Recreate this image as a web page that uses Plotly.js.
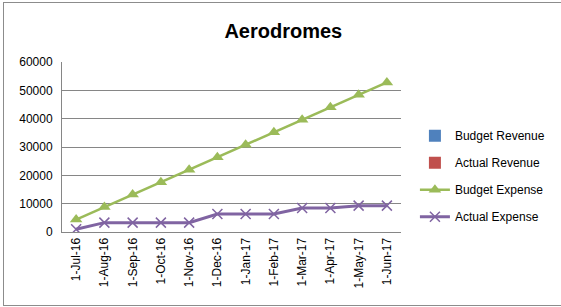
<!DOCTYPE html>
<html>
<head>
<meta charset="utf-8">
<script src="https://cdn.plot.ly/plotly-3.0.1.min.js"></script>
<style>
html,body{margin:0;padding:0;background:#fff;}
#wrap{position:relative;width:561px;height:307px;overflow:hidden;}
#chart{position:absolute;left:0;top:0;width:561px;height:307px;}
#frame{position:absolute;left:3px;top:2px;width:570px;height:302px;border:1px solid #8c8c8c;pointer-events:none;}
</style>
</head>
<body>
<div id="wrap"><div id="chart"></div><div id="frame"></div></div>
<script>
const months = ["1-Jul-16","1-Aug-16","1-Sep-16","1-Oct-16","1-Nov-16","1-Dec-16","1-Jan-17","1-Feb-17","1-Mar-17","1-Apr-17","1-May-17","1-Jun-17"];
const budgetRevenue = [0,0,0,0,0,0,0,0,0,0,0,0];
const actualRevenue = [0,0,0,0,0,0,0,0,0,0,0,0];
const budgetExpense = [4400,8800,13200,17600,22000,26400,30800,35200,39600,44000,48400,52800];
const actualExpense = [950,3300,3300,3300,3300,6350,6350,6350,8450,8450,9300,9300];
const yTicks = [0,10000,20000,30000,40000,50000,60000];

const traces = [
  {type:'bar', name:'Budget Revenue', x:months, y:budgetRevenue, marker:{color:'#4F81BD'}, legendgroup:'a'},
  {type:'bar', name:'Actual Revenue', x:months, y:actualRevenue, marker:{color:'#C0504D'}, legendgroup:'b'},
  {type:'scatter', mode:'lines+markers', name:'Budget Expense', x:months, y:budgetExpense,
   line:{color:'#9BBB59', width:2.5}, marker:{symbol:'triangle-up', size:11, color:'#9BBB59'}, legendgroup:'c'},
  {type:'scatter', mode:'lines+markers', name:'Actual Expense', x:months, y:actualExpense,
   line:{color:'#8064A2', width:3}, marker:{symbol:'x-thin', size:10, line:{color:'#8064A2', width:1.5}, color:'#8064A2'}, legendgroup:'d'}
];

const layout = {
  width:561, height:307,
  margin:{l:62, r:159, t:62, b:75, pad:0},
  paper_bgcolor:'rgba(0,0,0,0)', plot_bgcolor:'#fff',
  font:{family:'Liberation Sans, Arial, sans-serif', size:12, color:'#000'},
  title:{text:'<b>Aerodromes</b>', font:{size:20, color:'#000', family:'Liberation Sans, Arial, sans-serif'},
         x:0.505, xref:'container', xanchor:'center', y:0.9, yref:'container', yanchor:'middle'},
  barmode:'group',
  xaxis:{type:'category', categoryarray:months, range:[-0.5,11.5], tickangle:-90,
         showline:true, linecolor:'#868686', linewidth:1, showgrid:false, zeroline:false,
         ticks:'', tickfont:{size:12}},
  yaxis:{range:[0,60000], tickvals:yTicks, ticktext:yTicks.map(String),
         showline:true, linecolor:'#868686', linewidth:1, gridcolor:'#868686', gridwidth:1,
         zeroline:false, ticks:'', tickfont:{size:12}, ticklabelstandoff:6},
  showlegend:true,
  legend:{x:1.038, xanchor:'left', y:0.652, yanchor:'top', traceorder:'grouped', tracegroupgap:8,
          font:{size:12}, bgcolor:'rgba(0,0,0,0)'}
};

Plotly.newPlot('chart', traces, layout, {staticPlot:true, displayModeBar:false});
</script>
</body>
</html>
